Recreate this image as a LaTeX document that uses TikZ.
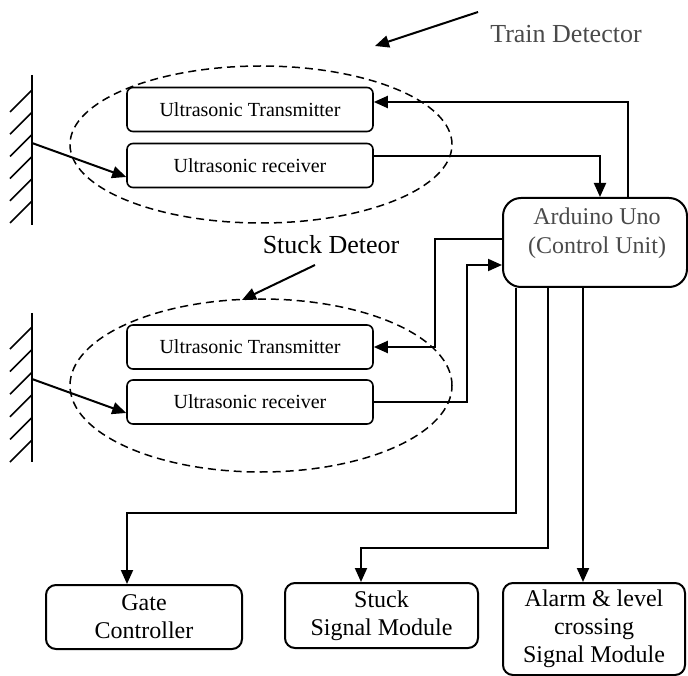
\documentclass[tikz,border=0pt]{standalone}
\usepackage{fontspec}
\setmainfont{Liberation Serif}
\usetikzlibrary{arrows.meta,shapes.geometric}
\definecolor{labgray}{HTML}{4A4A4A}
\begin{document}
\begin{tikzpicture}[x=1pt,y=-1pt,
  arr/.style={line width=2pt,-{Triangle[length=14pt,width=12pt]}},
  wall/.style={line width=1.6pt},
  usbox/.style={draw,line width=1.6pt,rounded corners=6pt,fill=white,minimum width=246pt,minimum height=44pt,inner sep=0pt,font=\fontsize{20}{24}\selectfont},
  outbox/.style={draw,line width=2pt,rounded corners=10pt,fill=white,inner sep=0pt,align=center,font=\fontsize{24}{28}\selectfont},
  ardbox/.style={draw,line width=2pt,rounded corners=18pt,fill=white,minimum width=184pt,minimum height=89pt,inner sep=0pt},
  zone/.style={ellipse,draw,line width=1.5pt,dash pattern=on 8pt off 5pt,inner sep=0pt},
  biglab/.style={font=\fontsize{26}{30}\selectfont,inner sep=0pt}
]
\useasboundingbox (0,0) rectangle (688,676);

% detection zones
\node[zone,minimum width=382pt,minimum height=157pt] (z1) at (261,144.5) {};
\node[zone,minimum width=382pt,minimum height=173pt] (z2) at (261,385.5) {};

% walls
\draw[wall] (32,75) -- (32,225);
\foreach \k in {0,...,5} \draw[wall] (32,{90+22.2*\k}) -- ++(-22,22);
\draw[wall] (32,313) -- (32,462);
\foreach \k in {0,...,5} \draw[wall] (32,{327+22.6*\k}) -- ++(-22,22);
\coordinate (w1) at (32,143);
\coordinate (w2) at (32,379);

% sensor boxes
\node[usbox] (tx1) at (250,109.5) {Ultrasonic Transmitter};
\node[usbox] (rx1) at (250,165.5) {Ultrasonic receiver};
\node[usbox] (tx2) at (250,347) {Ultrasonic Transmitter};
\node[usbox] (rx2) at (250,402) {Ultrasonic receiver};

% controller
\node[ardbox] (ard) at (595,242.5) {};
\node[text=labgray,align=center,font=\fontsize{24}{29}\selectfont,inner sep=0pt] (ardtxt) at (597,233) {Arduino Uno\\(Control Unit)};

% outputs
\node[outbox,minimum width=196pt,minimum height=64pt] (gate) at (144,617) {Gate\\Controller};
\node[outbox,minimum width=193pt,minimum height=65pt] (stuck) at (381.5,615.5) {Stuck\\Signal Module};
\node[outbox,minimum width=182pt,minimum height=92pt] (alarm) at (594,629) {Alarm \& level\\crossing\\Signal Module};

% labels
\node[biglab,text=labgray] (tdlab) at (566,34) {Train Detector};
\node[biglab] (sdlab) at (331,245) {Stuck Deteor};
\coordinate (tda) at (478,12);
\coordinate (tdt) at (375,46);
\coordinate (sda) at (315,265);
\coordinate (sdt) at (242,300);
\draw[arr] (tda) -- (tdt);
\draw[arr] (sda) -- (sdt);

% wall reflections
\draw[arr] (w1) -- ([yshift=-11.5pt]rx1.west);
\draw[arr] (w2) -- ([yshift=-11pt]rx2.west);

% connectors
\draw[arr] ([xshift=33pt]ard.north) |- ([yshift=7.5pt]tx1.east);
\draw[arr] ([yshift=9.5pt]rx1.east) -| ([xshift=5pt]ard.north);
\draw[arr] ([yshift=3.5pt]ard.west) -- ++(-67,0) |- (tx2.east);
\draw[arr] (rx2.east) -- ++(93,0) |- ([yshift=-22.5pt]ard.west);
\draw[arr] ([xshift=-79pt]ard.south) -- ++(0,225) -| ([xshift=-17pt]gate.north);
\draw[arr] ([xshift=-47pt]ard.south) -- ++(0,260) -| ([xshift=-20.5pt]stuck.north);
\draw[arr] ([xshift=-12pt]ard.south) -- ([xshift=-12pt]ard.south |- alarm.north);
\end{tikzpicture}
\end{document}
